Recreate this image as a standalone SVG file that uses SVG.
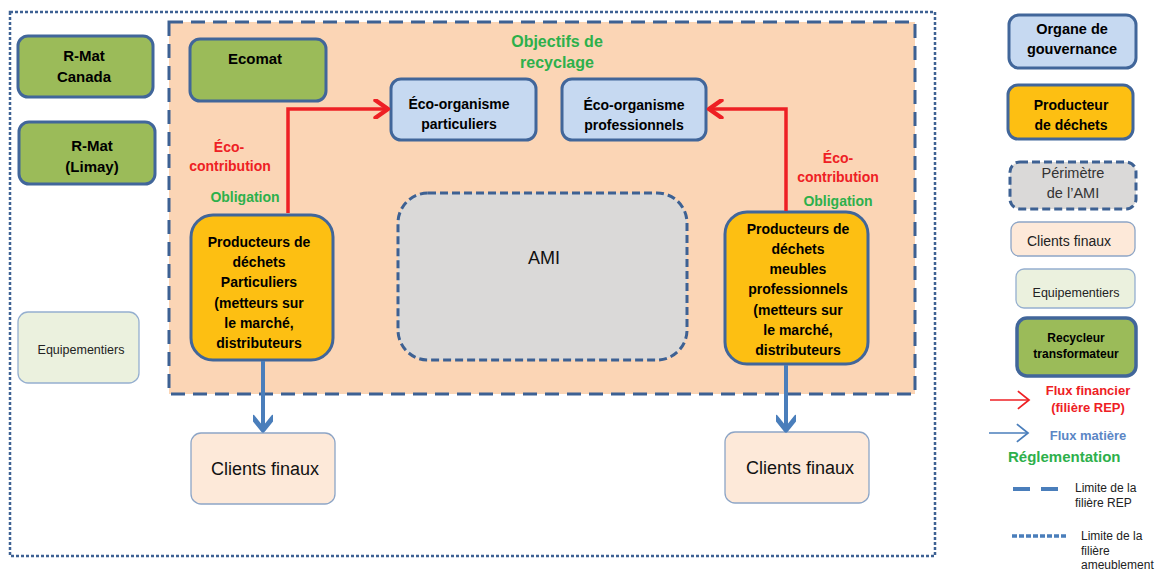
<svg xmlns="http://www.w3.org/2000/svg" width="1160" height="573" viewBox="0 0 1160 573">
<defs>
<style>
text{font-family:"Liberation Sans",Arial,sans-serif;text-anchor:middle;}
.b{font-weight:bold;}
.box{stroke:#41669A;stroke-width:3;}
.green{fill:#9BBB59;}
.blue{fill:#C6D9F1;}
.orange{fill:#FDBF12;}
.client{fill:#FDE9D9;stroke:#8DA5C6;stroke-width:1.3;}
.equip{fill:#EBF1DE;stroke:#95AFCF;stroke-width:1.3;}
.red{fill:#EE2024;}
.grn{fill:#2DB04B;}
</style>
<marker id="rh" markerUnits="userSpaceOnUse" markerWidth="20" markerHeight="20" viewBox="-12 -8 14 16" refX="0" refY="0" orient="auto">
<path d="M-10,-7 L0,0 L-10,7" fill="none" stroke="#EE2024" stroke-width="3.5" stroke-linecap="round" stroke-linejoin="round"/>
</marker>
<marker id="bh" markerUnits="userSpaceOnUse" markerWidth="20" markerHeight="20" viewBox="-12 -8 14 16" refX="0" refY="0" orient="auto">
<path d="M-10,-8 L0,0 L-10,8" fill="none" stroke="#4A7EBB" stroke-width="4" stroke-linecap="round" stroke-linejoin="round"/>
</marker>
<marker id="rhs" markerUnits="userSpaceOnUse" markerWidth="16" markerHeight="20" viewBox="-12 -9 14 18" refX="0" refY="0" orient="auto">
<path d="M-10,-8 L0,0 L-10,8" fill="none" stroke="#EE2024" stroke-width="1.6"/>
</marker>
<marker id="bhs" markerUnits="userSpaceOnUse" markerWidth="16" markerHeight="20" viewBox="-12 -9 14 18" refX="0" refY="0" orient="auto">
<path d="M-10,-8 L0,0 L-10,8" fill="none" stroke="#4A7EBB" stroke-width="1.6"/>
</marker>
</defs>

<rect width="1160" height="573" fill="#fff"/>

<!-- outer dotted limit (filière ameublement) -->
<rect id="perimetre-ameublement" x="10" y="12" width="925" height="544" fill="none" stroke="#3D6193" stroke-width="2.5" stroke-dasharray="3 2"/>

<!-- peach dashed limit (filière REP) -->
<rect id="perimetre-rep" x="169" y="22" width="746" height="372" fill="#FBD5B5" stroke="#3D6193" stroke-width="3" stroke-dasharray="14 8"/>

<g id="rmat-canada">
<rect class="box green" x="18" y="36" width="135" height="61" rx="10"/>
<text class="b" x="84" y="61" font-size="15">R-Mat</text>
<text class="b" x="84" y="82" font-size="15">Canada</text>
</g>
<g id="rmat-limay">
<rect class="box green" x="19" y="122" width="136" height="62" rx="10"/>
<text class="b" x="92" y="151" font-size="15">R-Mat</text>
<text class="b" x="92" y="172" font-size="15">(Limay)</text>
</g>
<g id="ecomat">
<rect class="box green" x="190" y="39" width="136" height="62" rx="10"/>
<text class="b" x="255" y="64" font-size="15">Ecomat</text>
</g>

<g id="objectifs">
<text class="b grn" x="557" y="47" font-size="16">Objectifs de</text>
<text class="b grn" x="557" y="68" font-size="16">recyclage</text>
</g>

<g id="eco-particuliers">
<rect class="box blue" x="391" y="79" width="145" height="61" rx="10"/>
<text class="b" x="459" y="109" font-size="14">Éco-organisme</text>
<text class="b" x="459" y="129" font-size="14">particuliers</text>
</g>
<g id="eco-professionnels">
<rect class="box blue" x="562" y="79" width="144" height="61" rx="10"/>
<text class="b" x="634" y="110" font-size="14">Éco-organisme</text>
<text class="b" x="634" y="130" font-size="14">professionnels</text>
</g>

<g id="ami">
<rect x="398" y="193" width="289" height="167" rx="30" fill="#DAD9D8" stroke="#3D6193" stroke-width="3" stroke-dasharray="8 4"/>
<text x="544" y="264" font-size="18" fill="#111">AMI</text>
</g>

<g id="producteurs-particuliers">
<rect class="box orange" x="191" y="215" width="142" height="145" rx="22"/>
<g class="b" font-size="14">
<text x="259" y="247">Producteurs de</text>
<text x="259" y="267">déchets</text>
<text x="259" y="287">Particuliers</text>
<text x="259" y="308">(metteurs sur</text>
<text x="259" y="328">le marché,</text>
<text x="259" y="348">distributeurs</text>
</g>
</g>

<g id="producteurs-professionnels">
<rect class="box orange" x="725" y="212" width="143" height="152" rx="22"/>
<g class="b" font-size="14">
<text x="798" y="234">Producteurs de</text>
<text x="798" y="254">déchets</text>
<text x="798" y="274">meubles</text>
<text x="798" y="294">professionnels</text>
<text x="798" y="315">(metteurs sur</text>
<text x="798" y="335">le marché,</text>
<text x="798" y="355">distributeurs</text>
</g>
</g>

<g id="clients-gauche">
<rect class="client" x="191" y="433" width="144" height="71" rx="10"/>
<text x="265" y="475" font-size="18" fill="#111">Clients finaux</text>
</g>
<g id="clients-droite">
<rect class="client" x="725" y="432" width="144" height="71" rx="10"/>
<text x="800" y="474" font-size="18" fill="#111">Clients finaux</text>
</g>

<g id="equipementiers">
<rect class="equip" x="18" y="312" width="121" height="71" rx="10"/>
<text x="81" y="354" font-size="12.5" fill="#222">Equipementiers</text>
</g>

<!-- connectors -->
<g id="connecteurs" fill="none">
<path d="M288,213 V109 H388" stroke="#EE2024" stroke-width="3.5" marker-end="url(#rh)"/>
<path d="M786,211 V109 H709" stroke="#EE2024" stroke-width="3.5" marker-end="url(#rh)"/>
<path d="M263,361 V430" stroke="#4A7EBB" stroke-width="4" marker-end="url(#bh)"/>
<path d="M786,365 V430" stroke="#4A7EBB" stroke-width="4" marker-end="url(#bh)"/>
</g>

<g id="labels-gauche" font-size="14" class="b">
<text class="red" x="229" y="152">Éco-</text>
<text class="red" x="230" y="171">contribution</text>
<text class="grn" x="245" y="202">Obligation</text>
</g>
<g id="labels-droite" font-size="14" class="b">
<text class="red" x="838" y="163">Éco-</text>
<text class="red" x="838" y="182">contribution</text>
<text class="grn" x="838" y="206">Obligation</text>
</g>

<!-- legend -->
<g id="leg-organe">
<rect class="box blue" x="1009" y="15" width="127" height="53" rx="10"/>
<text class="b" x="1072" y="34" font-size="14.5">Organe de</text>
<text class="b" x="1072" y="54" font-size="14.5">gouvernance</text>
</g>
<g id="leg-producteur">
<rect class="box orange" x="1008" y="85" width="125" height="54" rx="10"/>
<text class="b" x="1071" y="110" font-size="14">Producteur</text>
<text class="b" x="1071" y="130" font-size="14">de déchets</text>
</g>
<g id="leg-perimetre">
<rect x="1010" y="162" width="126" height="47" rx="10" fill="#DAD9D8" stroke="#3D6193" stroke-width="3" stroke-dasharray="8 4"/>
<text x="1073" y="178" font-size="14.5" fill="#333">Périmètre</text>
<text x="1073" y="198" font-size="14.5" fill="#333">de l’AMI</text>
</g>
<g id="leg-clients">
<rect class="client" x="1011" y="222" width="124" height="34" rx="8"/>
<text x="1069" y="246" font-size="14" fill="#222">Clients finaux</text>
</g>
<g id="leg-equipementiers">
<rect class="equip" x="1016" y="269" width="119" height="39" rx="8"/>
<text x="1076" y="297" font-size="12.5" fill="#222">Equipementiers</text>
</g>
<g id="leg-recycleur">
<rect class="green" x="1017" y="318" width="119" height="58" rx="10" stroke="#41669A" stroke-width="3.5"/>
<text class="b" x="1076" y="342" font-size="12">Recycleur</text>
<text class="b" x="1076" y="358" font-size="12">transformateur</text>
</g>
<g id="leg-flux">
<line x1="990" y1="400" x2="1029" y2="400" stroke="#EE2024" stroke-width="1.6" marker-end="url(#rhs)"/>
<text class="b red" x="1088" y="395" font-size="13">Flux financier</text>
<text class="b red" x="1088" y="412" font-size="13">(filière REP)</text>
<line x1="989" y1="433" x2="1028" y2="433" stroke="#4A7EBB" stroke-width="1.6" marker-end="url(#bhs)"/>
<text class="b" x="1088" y="440" font-size="13" fill="#5B86C5">Flux matière</text>
<text class="b grn" x="1008" y="462" font-size="15" style="text-anchor:start">Réglementation</text>
</g>
<g id="leg-limites" font-size="12" fill="#222">
<line x1="1013" y1="489" x2="1058" y2="489" stroke="#4A7EBB" stroke-width="4" stroke-dasharray="17 11"/>
<text x="1075" y="492" style="text-anchor:start">Limite de la</text>
<text x="1075" y="507" style="text-anchor:start">filière REP</text>
<line x1="1012" y1="536" x2="1066" y2="536" stroke="#4A7EBB" stroke-width="3.5" stroke-dasharray="5 2"/>
<text x="1081" y="540" style="text-anchor:start">Limite de la</text>
<text x="1081" y="555" style="text-anchor:start">filière</text>
<text x="1081" y="569" style="text-anchor:start">ameublement</text>
</g>
</svg>
